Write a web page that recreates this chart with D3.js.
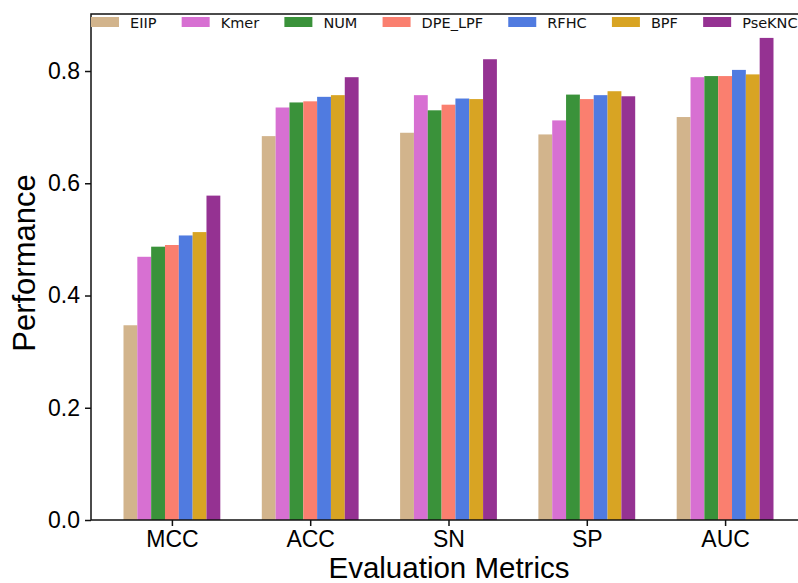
<!DOCTYPE html>
<html>
<head>
<meta charset="utf-8">
<script src="https://cdn.jsdelivr.net/npm/d3@7"></script>
<style>
  html, body { margin: 0; padding: 0; background: #fff; }
  svg { display: block; }
</style>
</head>
<body>
<svg id="chart" width="798" height="583"></svg>
<script>
// ---- data ----
const metrics = ["MCC", "ACC", "SN", "SP", "AUC"];
const methods = ["EIIP", "Kmer", "NUM", "DPE_LPF", "RFHC", "BPF", "PseKNC"];
const colors  = ["#D2B48C", "#D770D2", "#3A923A", "#FA7F6F", "#507BE0", "#D8A423", "#953292"];
const EIIP    = [0.347, 0.684, 0.690, 0.687, 0.718];
const Kmer    = [0.469, 0.735, 0.757, 0.712, 0.789];
const NUM     = [0.487, 0.744, 0.730, 0.758, 0.791];
const DPE_LPF = [0.490, 0.746, 0.740, 0.750, 0.791];
const RFHC    = [0.507, 0.754, 0.751, 0.757, 0.802];
const BPF     = [0.513, 0.757, 0.750, 0.764, 0.794];
const PseKNC  = [0.578, 0.789, 0.821, 0.755, 0.859];
const yTicks  = [0.0, 0.2, 0.4, 0.6, 0.8];
const seriesValues = [EIIP, Kmer, NUM, DPE_LPF, RFHC, BPF, PseKNC];

// ---- layout ----
const svg = d3.select("#chart");
const mLeft = 91, mBottom = 520, mTop = 14, mRight = 806;
const x = d3.scaleLinear().domain([-0.585, 4.585]).range([mLeft, mRight]);
const y = d3.scaleLinear().domain([0, 0.9016]).range([mBottom, mTop]);
const barW = 0.1;
const tickFont = "'Liberation Sans', Arial, sans-serif";

// bars
seriesValues.forEach((vals, j) => {
  svg.append("g").selectAll("rect")
    .data(vals)
    .join("rect")
    .attr("x", (d, i) => x(i + (j - 3.5) * barW))
    .attr("width", x(barW) - x(0))
    .attr("y", d => y(d))
    .attr("height", d => y(0) - y(d))
    .attr("fill", colors[j]);
});

// y axis
const yAxis = svg.append("g")
  .attr("transform", `translate(${mLeft},0)`)
  .call(d3.axisLeft(y).tickValues(yTicks).tickFormat(d3.format(".1f")).tickSizeOuter(0).tickSize(6).tickPadding(5));
yAxis.select(".domain").remove();
yAxis.selectAll(".tick line").attr("stroke", "#111").attr("stroke-width", 1.5);
yAxis.selectAll("text").attr("font-family", tickFont).attr("font-size", 23).attr("fill", "#000");

// x axis
const xAxis = svg.append("g")
  .attr("transform", `translate(0,${mBottom})`)
  .call(d3.axisBottom(x).tickValues(d3.range(metrics.length)).tickFormat(i => metrics[i]).tickSizeOuter(0).tickSize(6).tickPadding(5));
xAxis.select(".domain").remove();
xAxis.selectAll(".tick line").attr("stroke", "#111").attr("stroke-width", 1.5);
xAxis.selectAll("text").attr("font-family", tickFont).attr("font-size", 23).attr("fill", "#000");

// spines
svg.append("rect").attr("x", mLeft).attr("y", mTop).attr("width", mRight - mLeft).attr("height", mBottom - mTop)
  .attr("fill", "none").attr("stroke", "#111").attr("stroke-width", 1.5);

// axis titles
svg.append("text")
  .attr("transform", `translate(35,263) rotate(-90)`)
  .attr("text-anchor", "middle")
  .attr("font-family", tickFont).attr("font-size", 31)
  .text("Performance");
svg.append("text")
  .attr("x", 449).attr("y", 578)
  .attr("text-anchor", "middle")
  .attr("font-family", tickFont).attr("font-size", 29.5)
  .text("Evaluation Metrics");

// legend
const lg = svg.append("g");
let lx = 91;
methods.forEach((m, j) => {
  lg.append("rect").attr("x", lx).attr("y", 17).attr("width", 28).attr("height", 10).attr("fill", colors[j]);
  const t = lg.append("text").attr("x", lx + 28 + 11).attr("y", 27.5)
    .attr("font-family", "'DejaVu Sans', sans-serif").attr("font-size", 14.5)
    .attr("fill", "#111").text(m);
  lx = lx + 28 + 11 + t.node().getComputedTextLength() + 25.2;
});
</script>
</body>
</html>
